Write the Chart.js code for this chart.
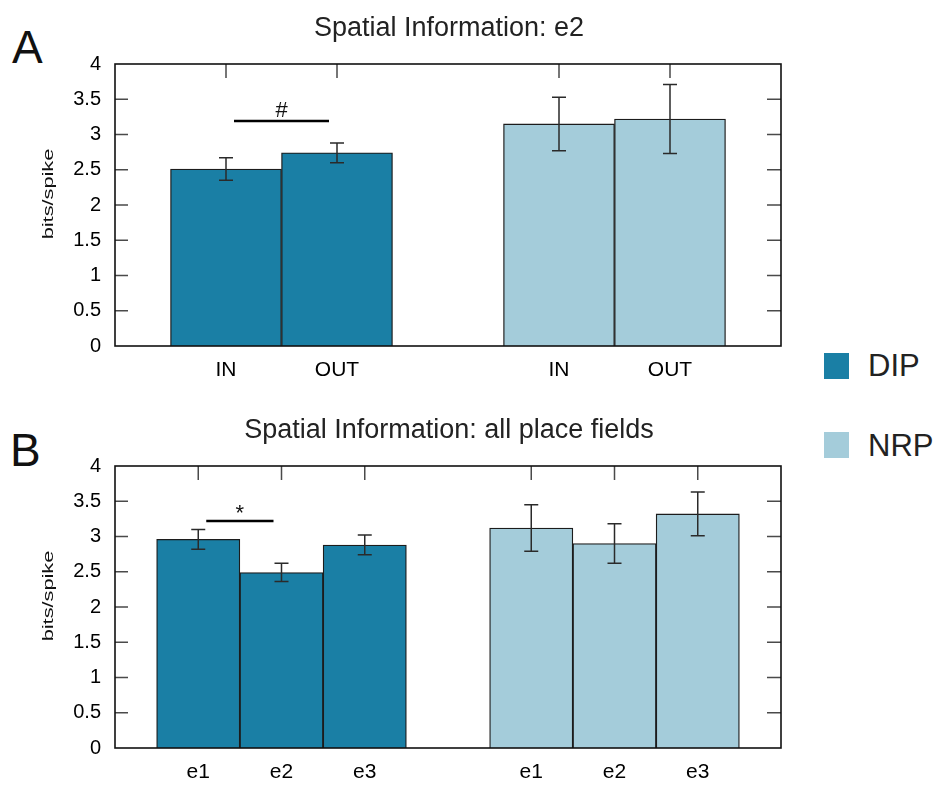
<!DOCTYPE html>
<html>
<head>
<meta charset="utf-8">
<script src="https://cdn.jsdelivr.net/npm/chart.js@4"></script>
<style>
  body { margin: 0; background: #fff; width: 940px; height: 785px; position: relative; overflow: hidden;
         font-family: "Liberation Sans", Arial, sans-serif; }
  canvas { position: absolute; left: 0; }
  .panel { position: absolute; font-size: 46px; line-height: 1; color: #111; }
  .key { position: absolute; left: 824px; width: 25px; height: 26px; }
  .keytext { position: absolute; left: 868px; font-size: 31px; line-height: 1; color: #222; }
</style>
</head>
<body>
<div class="panel" style="left:12px; top:24px;">A</div>
<div class="panel" style="left:10px; top:427px;">B</div>
<div class="key" style="top:353px; background:#1a7fa5;"></div>
<div class="keytext" style="top:350px;">DIP</div>
<div class="key" style="top:432px; background:#a4ccda;"></div>
<div class="keytext" style="top:430px;">NRP</div>

<canvas id="chartA" width="940" height="400" style="top:0px;"></canvas>
<canvas id="chartB" width="940" height="385" style="top:400px;"></canvas>

<script>
// ---- Panel A: spatial information of e2 fields, inside vs outside ----
const condA = ['IN', 'OUT'];
const dipA = [2.51, 2.74];
const dipErrA = [0.16, 0.14];
const nrpA = [3.15, 3.22];
const nrpErrA = [0.38, 0.49];
const sigA = [{ from: 1, to: 2, y: 3.19, mark: '#' }];

// ---- Panel B: spatial information of all place fields per epoch ----
const condB = ['e1', 'e2', 'e3'];
const dipB = [2.96, 2.49, 2.88];
const dipErrB = [0.14, 0.13, 0.14];
const nrpB = [3.12, 2.90, 3.32];
const nrpErrB = [0.33, 0.28, 0.31];
const sigB = [{ from: 1, to: 2, y: 3.22, mark: '*' }];

const yTicks = [0, 0.5, 1, 1.5, 2, 2.5, 3, 3.5, 4];
const DIP_COLOR = '#1a7fa5';
const NRP_COLOR = '#a4ccda';
const FONT = '"Liberation Sans", Arial, sans-serif';

Chart.defaults.font.family = FONT;

// one empty slot on each side and between the two groups
function buildAxis(cond) {
  return ['', ...cond, '', ...cond, ''];
}
function buildSeries(cond, values, first) {
  const gap = cond.map(() => null);
  return first ? [null, ...values, null, ...gap, null] : [null, ...gap, null, ...values, null];
}

const errorBars = {
  id: 'errorBars',
  afterDatasetsDraw(chart, args, opts) {
    const { ctx } = chart;
    const y = chart.scales.y;
    ctx.save();
    ctx.strokeStyle = '#2a2a2a';
    ctx.lineWidth = 1.5;
    chart.data.datasets.forEach((ds, i) => {
      const meta = chart.getDatasetMeta(i);
      const errs = opts.errors[i];
      let k = 0;
      ds.data.forEach((v, j) => {
        if (v === null) return;
        const e = errs[k++];
        const x = meta.data[j].x;
        const yt = y.getPixelForValue(v + e);
        const yb = y.getPixelForValue(v - e);
        ctx.beginPath();
        ctx.moveTo(x, yt); ctx.lineTo(x, yb);
        ctx.moveTo(x - 7, yt); ctx.lineTo(x + 7, yt);
        ctx.moveTo(x - 7, yb); ctx.lineTo(x + 7, yb);
        ctx.stroke();
      });
    });
    ctx.restore();
  }
};

const frameTicks = {
  id: 'frameTicks',
  afterDatasetsDraw(chart) {
    const { ctx, chartArea: a } = chart;
    const y = chart.scales.y, x = chart.scales.x;
    ctx.save();
    ctx.strokeStyle = '#4a4a4a';
    ctx.lineWidth = 1.5;
    ctx.beginPath();
    yTicks.slice(1, -1).forEach(t => {
      const py = y.getPixelForValue(t);
      ctx.moveTo(a.left, py); ctx.lineTo(a.left + 13, py);
      ctx.moveTo(a.right - 14, py); ctx.lineTo(a.right, py);
    });
    chart.data.labels.forEach((lab, i) => {
      if (!lab) return;
      const px = x.getPixelForValue(i);
      ctx.moveTo(px, a.top); ctx.lineTo(px, a.top + 14);
    });
    ctx.stroke();
    ctx.strokeStyle = '#111';
    ctx.lineWidth = 1.6;
    ctx.strokeRect(a.left, a.top, a.right - a.left, a.bottom - a.top);
    ctx.restore();
  }
};

const sigMarks = {
  id: 'sigMarks',
  afterDatasetsDraw(chart, args, opts) {
    const { ctx } = chart;
    const x = chart.scales.x, y = chart.scales.y;
    ctx.save();
    opts.marks.forEach(m => {
      const x1 = x.getPixelForValue(m.from) + 8;
      const x2 = x.getPixelForValue(m.to) - 8;
      const py = y.getPixelForValue(m.y);
      ctx.strokeStyle = '#000';
      ctx.lineWidth = 2.5;
      ctx.beginPath(); ctx.moveTo(x1, py); ctx.lineTo(x2, py); ctx.stroke();
      ctx.font = '22px ' + FONT;
      ctx.fillStyle = '#111';
      ctx.textAlign = 'center';
      ctx.textBaseline = 'alphabetic';
      const tm = ctx.measureText(m.mark);
      const mid = (tm.actualBoundingBoxAscent - tm.actualBoundingBoxDescent) / 2;
      ctx.fillText(m.mark, (x1 + x2) / 2, py - 11.5 + mid);
    });
    ctx.restore();
  }
};

const panelText = {
  id: 'panelText',
  afterDraw(chart, args, opts) {
    const { ctx, chartArea: a } = chart;
    ctx.save();
    ctx.fillStyle = '#222';
    ctx.font = '27px ' + FONT;
    ctx.textAlign = 'center';
    ctx.textBaseline = 'alphabetic';
    ctx.fillText(opts.title, (a.left + a.right) / 2 + 1, a.top - 28);
    // vertical axis caption
    ctx.fillStyle = '#111';
    ctx.translate(49, (a.top + a.bottom) / 2 - 11);
    ctx.rotate(-Math.PI / 2);
    ctx.scale(1.45, 1);
    ctx.font = '15px ' + FONT;
    ctx.textBaseline = 'middle';
    ctx.fillText(opts.yTitle, 0, 0);
    ctx.restore();
  }
};

function makeChart(id, cond, dip, dipErr, nrp, nrpErr, sig, title, topPad, bottomH) {
  return new Chart(document.getElementById(id), {
    type: 'bar',
    data: {
      labels: buildAxis(cond),
      datasets: [
        { label: 'DIP', data: buildSeries(cond, dip, true), backgroundColor: DIP_COLOR,
          borderColor: '#1c1c1c', borderWidth: 1.3 },
        { label: 'NRP', data: buildSeries(cond, nrp, false), backgroundColor: NRP_COLOR,
          borderColor: '#1c1c1c', borderWidth: 1.3 }
      ]
    },
    options: {
      responsive: false,
      animation: false,
      devicePixelRatio: 1,
      layout: { padding: { left: 0, right: 159, top: topPad, bottom: 0 } },
      datasets: { bar: { categoryPercentage: 1, barPercentage: 1 } },
      scales: {
        x: {
          type: 'category',
          stacked: true,
          offset: false,
          grid: { display: false, drawTicks: false },
          border: { display: false },
          ticks: { font: { size: 21 }, color: '#000', padding: 12, autoSkip: false, maxRotation: 0 },
          afterFit(s) { s.height = bottomH; }
        },
        y: {
          min: 0, max: 4,
          grid: { display: false, drawTicks: false },
          border: { display: false },
          afterBuildTicks(s) { s.ticks = yTicks.map(v => ({ value: v })); },
          ticks: { font: { size: 20 }, color: '#000', padding: 14, callback: v => String(v) },
          afterFit(s) { s.width = 115; }
        }
      },
      plugins: {
        legend: { display: false },
        tooltip: { enabled: false },
        title: { display: false },
        errorBars: { errors: [dipErr, nrpErr] },
        sigMarks: { marks: sig },
        panelText: { title: title, yTitle: 'bits/spike' }
      }
    },
    plugins: [errorBars, frameTicks, sigMarks, panelText]
  });
}

makeChart('chartA', condA, dipA, dipErrA, nrpA, nrpErrA, sigA,
  'Spatial Information: e2', 64, 54);
makeChart('chartB', condB, dipB, dipErrB, nrpB, nrpErrB, sigB,
  'Spatial Information: all place fields', 66, 37);
</script>
</body>
</html>
